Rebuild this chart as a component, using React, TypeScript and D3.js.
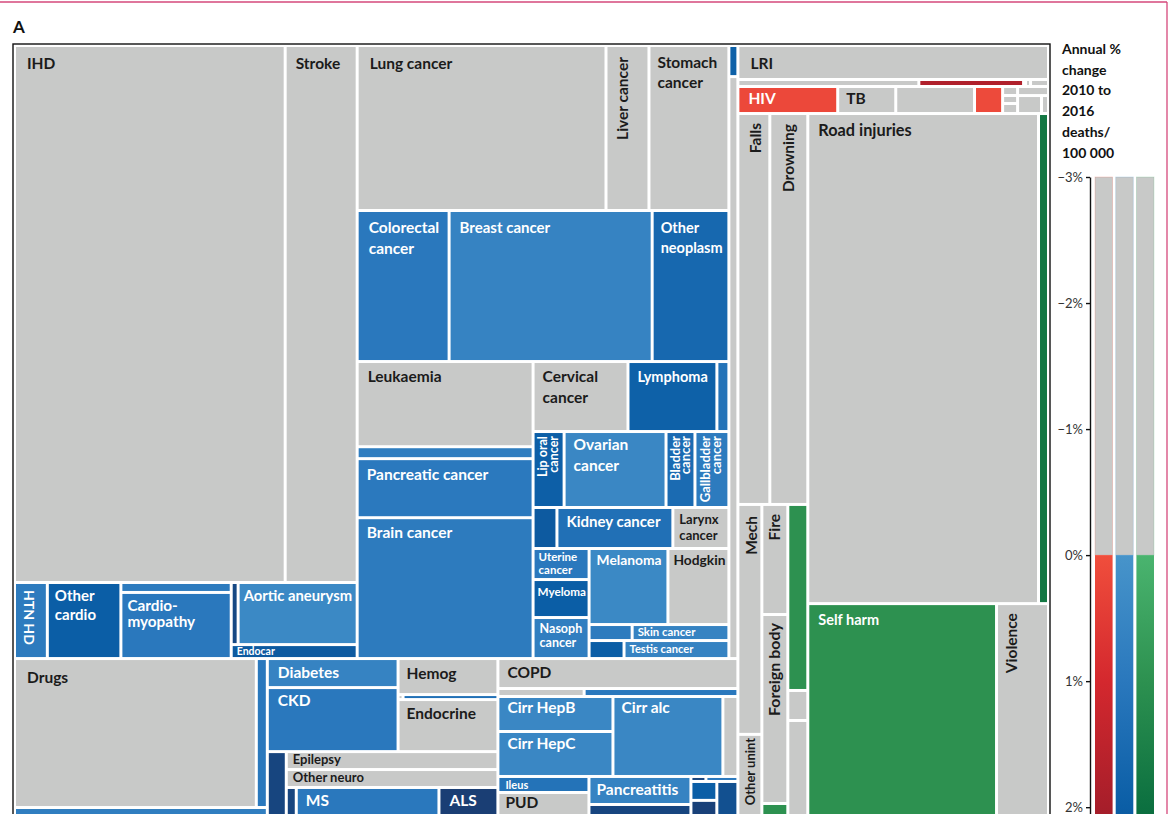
import React, { useEffect, useRef } from "react";
import * as d3 from "d3";

// [cause, deaths (area units), annual % change 2010-2016]
type Leaf = [string, number, number];

const cardioLeaves: Leaf[] = [
  ["IHD", 1455, -0.9],
  ["Stroke", 387, -1.2],
  ["HTN HD", 25, 0.9],
  ["Other cardio", 56, 2.0],
  ["Atrial fib", 11, 0.9],
  ["Cardiomyopathy", 73, 1.0],
  ["Rheumatic HD", 4.3, 2.6],
  ["Aortic aneurysm", 74, 0.4],
  ["Endocar", 17.6, 2.1],
];

const neoLeaves: Leaf[] = [
  ["Lung cancer", 411, -0.4],
  ["Liver cancer", 71, -0.6],
  ["Stomach cancer", 132, -1.6],
  ["Colorectal cancer", 139, 1.0],
  ["Breast cancer", 307, 0.6],
  ["Other neoplasm", 116, 1.6],
  ["Leukaemia", 150, -0.5],
  ["Neo a", 21, 0.8],
  ["Pancreatic cancer", 104, 0.95],
  ["Brain cancer", 248, 0.9],
  ["Cervical cancer", 66.5, -0.7],
  ["Lymphoma", 62.3, 1.9],
  ["Neo b", 8.4, 1.2],
  ["Lip oral cancer", 23.6, 1.95],
  ["Ovarian cancer", 77.5, 0.45],
  ["Bladder cancer", 22, 1.5],
  ["Gallbladder cancer", 25.8, 0.9],
  ["Neo c", 9.8, 2.1],
  ["Kidney cancer", 47.6, 1.3],
  ["Larynx cancer", 23, -0.4],
  ["Uterine cancer", 17.4, 1.0],
  ["Myeloma", 21.3, 2.0],
  ["Nasoph cancer", 23, 0.8],
  ["Melanoma", 60, 0.4],
  ["Hodgkin", 46.4, -0.8],
  ["Neo d", 6.9, 0.9],
  ["Skin cancer", 15.5, 0.6],
  ["Neo e", 6.3, 2.0],
  ["Testis cancer", 18.9, 0.6],
];

const otherNcdLeaves: Leaf[] = [
  ["NCD a", 2.8, 1.9],
  ["NCD b", 52.4, -0.5],
];

const drugLeaves: Leaf[] = [
  ["Drugs", 360.6, -0.3],
  ["Drug b", 16.4, 1.0],
  ["Drug c", 27.8, 0.8],
];

const metabolicLeaves: Leaf[] = [
  ["Diabetes", 38, 0.6],
  ["CKD", 83.8, 1.0],
  ["Hemog", 36, -0.4],
  ["Met a", 0.25, -0.2],
  ["Met b", 4.75, 1.3],
  ["Endocrine", 52, -0.3],
];

const neuroLeaves: Leaf[] = [
  ["Neuro a", 12.7, 2.7],
  ["Epilepsy", 38, -0.5],
  ["Other neuro", 38, -0.3],
  ["Neuro b", 3.1, 2.7],
  ["MS", 44.3, 1.0],
  ["ALS", 18.3, 2.9],
];

const digestLeaves: Leaf[] = [
  ["COPD", 72, -1.0],
  ["Resp a", 6.9, -0.6],
  ["Resp b", 12.3, 1.0],
  ["Cirr HepB", 40.3, 0.45],
  ["Cirr HepC", 51.8, 0.45],
  ["Cirr alc", 88, 0.45],
  ["Cirr other", 12, -0.4],
  ["Ileus", 14.6, 1.2],
  ["PUD", 23.7, -0.8],
  ["Pancreatitis", 28.6, 0.6],
  ["Dig a", 14.3, 2.7],
  ["Dig b", 0.75, 2.7],
  ["Dig c", 1.6, 1.0],
  ["Dig d", 4.9, 2.0],
  ["Dig e", 4.7, 2.8],
  ["Dig f", 7.8, 2.4],
];

const commLeaves: Leaf[] = [
  ["LRI", 105.7, -1.4],
  ["Comm a", 12.7, -1.0],
  ["Comm b", 7.35, 1.8],
  ["Comm c", 0.14, 0.0],
  ["Comm d", 0.35, -0.3],
  ["Comm e", 1.26, -0.8],
  ["HIV", 27, 0.15],
  ["TB", 15.7, -1.5],
  ["Comm f", 21.3, -0.6],
  ["Comm g", 7.6, 0.1],
  ["Comm h", 1.35, -0.5],
  ["Comm i", 1.2, -0.5],
  ["Comm j", 1.5, -0.5],
  ["Comm k", 2.8, -0.5],
  ["Comm l", 4.3, -0.5],
  ["Comm m", 1.26, -0.5],
];

const injLeaves: Leaf[] = [
  ["Falls", 125, -0.8],
  ["Drowning", 148.6, -1.5],
  ["Mech", 55.2, -0.7],
  ["Other unint", 20.2, -0.5],
  ["Fire", 28.6, -1.0],
  ["Foreign body", 49.1, -0.4],
  ["Inj a", 3.9, 1.0],
  ["Inj b", 37.2, 1.0],
  ["Inj c", 6, -0.5],
  ["Inj d", 19.6, -0.6],
  ["Road injuries", 1131.9, -1.3],
  ["Inj e", 49, 1.8],
  ["Self harm", 406, 1.0],
  ["Violence", 111.8, -1.0],
];

const legendTitle = ["Annual %", "change", "2010 to", "2016", "deaths/", "100 000"];
const legendTicks = [-3, -2, -1, 0, 1, 2];
const legendGroups = ["comm", "ncd", "inj"];

const leafMap = new Map<string, Leaf>();
[cardioLeaves, neoLeaves, otherNcdLeaves, drugLeaves, metabolicLeaves, neuroLeaves, digestLeaves, commLeaves, injLeaves].forEach((arr) =>
  arr.forEach((l) => leafMap.set(l[0], l))
);

type TNode = { name?: string; value?: number; change?: number; dir?: string; group?: string; children?: TNode[] };
const L = (name: string): TNode => {
  const l = leafMap.get(name)!;
  return { name: l[0], value: l[1], change: l[2] };
};
const H = (...c: TNode[]): TNode => ({ dir: "h", children: c });
const V = (...c: TNode[]): TNode => ({ dir: "v", children: c });
const G = (group: string, n: TNode): TNode => ({ ...n, group });

const tree: TNode = H(
  G(
    "ncd",
    V(
      H(
        V(
          H(L("IHD"), L("Stroke")),
          H(L("HTN HD"), L("Other cardio"), V(L("Atrial fib"), L("Cardiomyopathy")), V(H(L("Rheumatic HD"), L("Aortic aneurysm")), L("Endocar")))
        ),
        V(
          H(L("Lung cancer"), L("Liver cancer"), L("Stomach cancer")),
          H(L("Colorectal cancer"), L("Breast cancer"), L("Other neoplasm")),
          H(
            V(L("Leukaemia"), L("Neo a"), L("Pancreatic cancer"), L("Brain cancer")),
            V(
              H(L("Cervical cancer"), L("Lymphoma"), L("Neo b")),
              H(L("Lip oral cancer"), L("Ovarian cancer"), L("Bladder cancer"), L("Gallbladder cancer")),
              H(L("Neo c"), L("Kidney cancer"), L("Larynx cancer")),
              H(
                V(L("Uterine cancer"), L("Myeloma"), L("Nasoph cancer")),
                V(H(L("Melanoma"), L("Hodgkin")), H(L("Neo d"), L("Skin cancer")), H(L("Neo e"), L("Testis cancer")))
              )
            )
          )
        ),
        V(L("NCD a"), L("NCD b"))
      ),
      H(
        V(H(L("Drugs"), L("Drug b")), L("Drug c")),
        V(
          H(V(L("Diabetes"), L("CKD")), V(L("Hemog"), H(L("Met a"), L("Met b")), L("Endocrine"))),
          H(L("Neuro a"), V(L("Epilepsy"), L("Other neuro"), H(L("Neuro b"), L("MS"), L("ALS"))))
        ),
        V(
          L("COPD"),
          H(L("Resp a"), L("Resp b")),
          H(V(L("Cirr HepB"), L("Cirr HepC")), L("Cirr alc"), L("Cirr other")),
          H(
            V(L("Ileus"), L("PUD")),
            V(L("Pancreatitis"), L("Dig a")),
            V(H(L("Dig b"), L("Dig c")), H(V(L("Dig d"), L("Dig e")), L("Dig f")))
          )
        )
      )
    )
  ),
  V(
    G(
      "comm",
      V(
        L("LRI"),
        H(L("Comm a"), L("Comm b"), L("Comm c"), L("Comm d"), L("Comm e")),
        H(L("HIV"), L("TB"), L("Comm f"), L("Comm g"), V(L("Comm h"), L("Comm i"), L("Comm j")), V(L("Comm k"), H(L("Comm l"), L("Comm m"))))
      )
    ),
    G(
      "inj",
      H(
        V(
          H(L("Falls"), L("Drowning")),
          H(V(L("Mech"), L("Other unint")), V(L("Fire"), L("Foreign body"), L("Inj a")), V(L("Inj b"), L("Inj c"), L("Inj d")))
        ),
        V(H(L("Road injuries"), L("Inj e")), H(L("Self harm"), L("Violence")))
      )
    )
  )
);

// label styles: t = lines, s = font size, r = rotation, dx/dy = offset from cell corner, lh = line height
type LS = { t?: string[]; s?: number; r?: number; dx?: number; dy?: number; lh?: number };
const LBL: Record<string, LS> = {
  IHD: { dx: 11 },
  Stroke: { dx: 9 },
  "Lung cancer": { dx: 11 },
  "Liver cancer": { r: -90, dx: 21, dy: 10 },
  "Stomach cancer": { t: ["Stomach", "cancer"], dx: 7, dy: 21, lh: 20 },
  "Colorectal cancer": { t: ["Colorectal", "cancer"], dx: 10, dy: 21, lh: 21 },
  "Breast cancer": { s: 15, dx: 9, dy: 21 },
  "Other neoplasm": { t: ["Other", "neoplasm"], s: 14.5, dx: 7, dy: 21, lh: 20 },
  Leukaemia: { dx: 9, dy: 19 },
  "Cervical cancer": { t: ["Cervical", "cancer"], dx: 8, dy: 19, lh: 21 },
  Lymphoma: { s: 14.5, dx: 8, dy: 19 },
  "Lip oral cancer": { t: ["Lip oral", "cancer"], s: 12.5, r: -90, dx: 12, dy: 3, lh: 11 },
  "Ovarian cancer": { t: ["Ovarian", "cancer"], dx: 8, dy: 17, lh: 21 },
  "Bladder cancer": { t: ["Bladder", "cancer"], s: 13, r: -90, dx: 12, dy: 3, lh: 10.5 },
  "Gallbladder cancer": { t: ["Gallbladder", "cancer"], s: 13, r: -90, dx: 14, dy: 3, lh: 11 },
  "Pancreatic cancer": { dx: 8, dy: 20 },
  "Brain cancer": { dx: 8, dy: 19 },
  "Kidney cancer": { s: 15, dx: 8, dy: 18 },
  "Larynx cancer": { t: ["Larynx", "cancer"], s: 13, dx: 5, dy: 15, lh: 16 },
  "Uterine cancer": { t: ["Uterine", "cancer"], s: 11.5, dx: 4, dy: 11, lh: 12.5 },
  Myeloma: { s: 11.7, dx: 3, dy: 15 },
  "Nasoph cancer": { t: ["Nasoph", "cancer"], s: 12.5, dx: 5, dy: 14, lh: 14 },
  Melanoma: { s: 13.8, dx: 6, dy: 15 },
  Hodgkin: { s: 13.8, dx: 4, dy: 15 },
  "Skin cancer": { s: 11.4, dx: 4, dy: 10 },
  "Testis cancer": { s: 11.2, dx: 4, dy: 11 },
  "HTN HD": { s: 14, r: 90, dx: 8, dy: 6 },
  "Other cardio": { t: ["Other", "cardio"], s: 15, dx: 6, dy: 17, lh: 19 },
  Cardiomyopathy: { t: ["Cardio-", "myopathy"], s: 15.3, dx: 5, dy: 17, lh: 16 },
  "Aortic aneurysm": { s: 14.8, dx: 4, dy: 17 },
  Endocar: { s: 10.5, dx: 4, dy: 9 },
  Drugs: { dx: 11, dy: 23 },
  Diabetes: { dx: 9, dy: 18 },
  CKD: { dx: 9, dy: 17 },
  Hemog: { dx: 7, dy: 19 },
  Endocrine: { dx: 7, dy: 18 },
  Epilepsy: { s: 13, dx: 5, dy: 11 },
  "Other neuro": { s: 13, dx: 5, dy: 11 },
  MS: { dx: 8, dy: 17 },
  ALS: { dx: 9, dy: 17 },
  COPD: { dx: 8, dy: 18 },
  "Cirr HepB": { dx: 8, dy: 15 },
  "Cirr HepC": { dx: 8, dy: 16 },
  "Cirr alc": { dx: 7, dy: 15 },
  Ileus: { s: 11, dx: 6, dy: 11 },
  PUD: { dx: 6, dy: 14 },
  Pancreatitis: { dx: 6, dy: 17 },
  LRI: { dx: 11, dy: 22 },
  HIV: { dx: 9, dy: 16 },
  TB: { dx: 7, dy: 16 },
  Falls: { r: -90, dx: 22, dy: 8 },
  Drowning: { r: -90, dx: 23, dy: 9 },
  "Road injuries": { s: 16.3, dx: 9, dy: 21 },
  Mech: { r: -90, dx: 18, dy: 10 },
  Fire: { r: -90, dx: 17, dy: 8 },
  "Foreign body": { s: 16, r: -90, dx: 17, dy: 7 },
  "Other unint": { r: -90, s: 13, dx: 16, dy: 2 },
  "Self harm": { s: 14.5, dx: 9, dy: 20 },
  Violence: { r: -90, dx: 19, dy: 8 },
};

const FONT = "Lato, 'Open Sans', sans-serif";
const GRAY = "#c8c9c8";
const colorScales: Record<string, d3.ScaleLinear<string, string>> = {
  comm: d3.scaleLinear<string>().domain([0, 1, 2, 3]).range(["#f04e3c", "#d4282e", "#a71e2a", "#7a1420"]).clamp(true),
  ncd: d3.scaleLinear<string>().domain([0, 1, 2, 3]).range(["#4794ca", "#2a78bd", "#0b5ea6", "#1c3a6e"]).clamp(true),
  inj: d3.scaleLinear<string>().domain([0, 1, 2, 3]).range(["#4ab46f", "#2d9150", "#0c7040", "#07522d"]).clamp(true),
};

const W = 1172;
const HGT = 814;
const TX = 16;
const TY = 47;
const TW = 1031;
const TH = 770;

const tile = (node: any, x0: number, y0: number, x1: number, y1: number) =>
  (node.data.dir === "h" ? d3.treemapDice : d3.treemapSlice)(node, x0, y0, x1, y1);

const root = d3.hierarchy<TNode>(tree).sum((d) => d.value ?? 0);
d3.treemap<TNode>().tile(tile).size([TW, TH]).paddingInner(3)(root);
const leaves = root.leaves() as d3.HierarchyRectangularNode<TNode>[];

const groupOf = (n: d3.HierarchyNode<TNode>) => n.ancestors().find((a) => a.data.group)?.data.group ?? "ncd";
const fillOf = (n: d3.HierarchyNode<TNode>) => {
  const c = n.data.change ?? -1;
  return c < 0 ? GRAY : colorScales[groupOf(n)](c);
};

const yLeg = d3.scaleLinear().domain([-3, 2.3]).range([177, 845]);
const xLeg = d3.scaleBand<string>().domain(legendGroups).range([1095, 1154]).paddingInner(0.15);

const CellLabel = ({ n }: { n: d3.HierarchyRectangularNode<TNode> }) => {
  const st = LBL[n.data.name ?? ""];
  if (!st) return null;
  const s = st.s ?? 15.5;
  const r = st.r ?? 0;
  const lines = st.t ?? [n.data.name!];
  const lh = st.lh ?? Math.round(s * 1.35);
  const dx = st.dx ?? (r ? 22 : 10);
  const dy = st.dy ?? (r ? 9 : 22);
  const colored = (n.data.change ?? -1) >= 0;
  const tr = `translate(${TX + n.x0 + dx},${TY + n.y0 + dy})${r ? ` rotate(${r})` : ""}`;
  return (
    <text
      transform={tr}
      fontFamily={FONT}
      fontWeight={700}
      fontSize={s}
      fill={colored ? "#ffffff" : "#1b1b1b"}
      textAnchor={r === -90 ? "end" : "start"}
    >
      {lines.map((t, i) => (
        <tspan key={i} x={0} y={i * lh}>
          {t}
        </tspan>
      ))}
    </text>
  );
};

const App = () => {
  const axisRef = useRef<SVGGElement>(null);

  useEffect(() => {
    const g = d3.select(axisRef.current);
    g.selectAll("*").remove();
    g.call(
      d3
        .axisLeft(yLeg)
        .tickValues(legendTicks)
        .tickSize(4)
        .tickSizeOuter(0)
        .tickPadding(3)
        .tickFormat((d) => `${(d as number) < 0 ? "\u2212" + Math.abs(d as number) : d}%`)
    );
    g.select(".domain").attr("stroke", "#111").attr("stroke-width", 1.4);
    g.selectAll(".tick line").attr("stroke", "#111").attr("stroke-width", 1.4);
    g.selectAll(".tick text").attr("fill", "#333").style("font-family", FONT).style("font-size", "13px");
  }, []);

  return (
    <svg width={W} height={HGT} style={{ position: "fixed", left: 0, top: 0, background: "#fff" }}>
      <defs>
        {legendGroups.map((gk) => (
          <linearGradient key={gk} id={`grad-${gk}`} gradientUnits="userSpaceOnUse" x1={0} x2={0} y1={yLeg(0)} y2={yLeg(3)}>
            {[0, 1, 2, 3].map((v) => (
              <stop key={v} offset={v / 3} stopColor={colorScales[gk](v)} />
            ))}
          </linearGradient>
        ))}
      </defs>
      <rect width={W} height={HGT} fill="#fff" />
      <line x1={0} x2={1167} y1={2} y2={2} stroke="#d5487b" strokeWidth={1.3} />
      <line x1={1167} x2={1167} y1={2} y2={HGT} stroke="#d5487b" strokeWidth={1.3} />
      <text x={13} y={33} fontFamily={FONT} fontWeight={700} fontSize={17} fill="#111">
        A
      </text>
      <rect x={13} y={44} width={1037} height={800} fill="none" stroke="#111" strokeWidth={1.4} />
      <g>
        {leaves.map((n, i) => (
          <rect key={i} x={TX + n.x0} y={TY + n.y0} width={Math.max(0, n.x1 - n.x0)} height={Math.max(0, n.y1 - n.y0)} fill={fillOf(n)} />
        ))}
      </g>
      <g>
        {leaves.map((n, i) => (
          <CellLabel key={i} n={n} />
        ))}
      </g>
      <text fontFamily={FONT} fontWeight={700} fontSize={14} fill="#111">
        {legendTitle.map((t, i) => (
          <tspan key={i} x={1062} y={54 + i * 20.7}>
            {t}
          </tspan>
        ))}
      </text>
      <g ref={axisRef} transform="translate(1090,0)" />
      {legendGroups.map((gk) => (
        <g key={gk}>
          <rect
            x={xLeg(gk)}
            y={yLeg(-3)}
            width={xLeg.bandwidth()}
            height={yLeg(0) - yLeg(-3)}
            fill={GRAY}
            stroke={colorScales[gk](0)}
            strokeOpacity={0.25}
            strokeWidth={0.8}
          />
          <rect x={xLeg(gk)} y={yLeg(0)} width={xLeg.bandwidth()} height={yLeg(2.3) - yLeg(0)} fill={`url(#grad-${gk})`} />
        </g>
      ))}
    </svg>
  );
};

export default App;
